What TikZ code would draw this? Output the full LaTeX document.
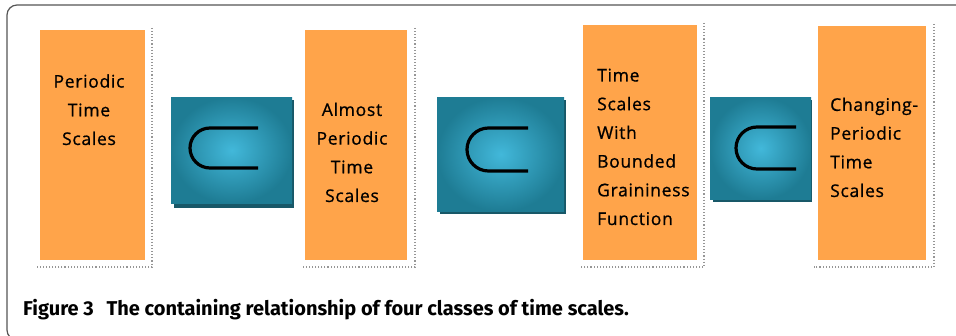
\documentclass[tikz,border=0pt]{standalone}
\usepackage{fontspec}
\setmainfont{Open Sans}
\newfontfamily\boxfont{Open Sans}[LetterSpace=4, FakeBold=0.8]
\newfontfamily\capfont{Fira Sans}
\definecolor{boxorange}{RGB}{255,164,74}
\definecolor{tealin}{RGB}{66,184,218}
\definecolor{tealout}{RGB}{30,124,148}
\definecolor{tealshadow}{RGB}{24,88,104}
\definecolor{framegray}{RGB}{85,85,85}
\definecolor{dotgray}{RGB}{150,150,150}
\begin{document}
\begin{tikzpicture}[x=1pt,y=-1pt,
  obox/.style={fill=boxorange, draw=none, inner sep=0pt, anchor=north west},
  bbox/.style={inner sep=0pt, anchor=north west, shading=radial, inner color=tealin, outer color=tealout},
  bshadow/.style={fill=tealshadow, draw=none},
  dotline/.style={draw=dotgray, line width=1.1pt, dotted},
  subsym/.style={draw=black, line width=3.2pt},
  boxtext/.style={font=\boxfont\fontsize{17.5}{28.7}\selectfont, inner sep=0pt, text=black},
  captext/.style={font=\capfont\bfseries\fontsize{20}{22}\selectfont, inner sep=0pt, anchor=base west}
]
\useasboundingbox (0,0) rectangle (956,336);
\begin{scope}
  \clip (0,0) rectangle (956,336);
  \draw[framegray, line width=1.2pt, rounded corners=10pt] (975,5) -- (7,5) -- (7,340) -- (40,340);
\end{scope}

% orange boxes
\node[obox, minimum width=105pt, minimum height=230pt] (p1) at (40,30) {};
\node[obox, minimum width=102pt, minimum height=230pt] (p2) at (305,30) {};
\node[obox, minimum width=114pt, minimum height=235pt] (p3) at (583,25) {};
\node[obox, minimum width=108pt, minimum height=234pt] (p4) at (818,26) {};

% dotted shadow edges
\draw[dotline] (152,28) -- (152,267) -- (35,267);
\draw[dotline] (415,28) -- (415,267) -- (302,267);
\draw[dotline] (704,23) -- (704,267) -- (580,267);
\draw[dotline] (934,24) -- (934,267) -- (814,267);

% teal boxes with shadow
\fill[bshadow] (174,100) rectangle (294,208);
\node[bbox, minimum width=121pt, minimum height=106pt] (b1) at (171,97) {};
\fill[bshadow] (440,100) rectangle (566,214);
\node[bbox, minimum width=127pt, minimum height=114pt] (b2) at (437,97) {};
\fill[bshadow] (713,100) rectangle (812,202);
\node[bbox, minimum width=101pt, minimum height=102pt] (b3) at (710,97) {};

% subset symbols
\draw[subsym] (258,128) -- (210,128) arc[start angle=270, end angle=90, radius=20] -- (258,168);
\draw[subsym] (528,128) -- (488.5,128) arc[start angle=270, end angle=90, radius=21.5] -- (528,171);
\draw[subsym] (796,127) -- (757,127) arc[start angle=270, end angle=90, radius=21] -- (796,169);

% texts (anchor base = baseline of last line)
\node[boxtext, align=center, anchor=base] (t1) at (89,145) {Periodic\\Time\\Scales};
\node[boxtext, align=center, anchor=base] (t2) at (352,202) {Almost\\Periodic\\Time\\Scales};
\node[boxtext, align=left, anchor=base west] (t3) at (597,225) {Time\\Scales\\With\\Bounded\\Graininess\\Function};
\node[boxtext, align=left, anchor=base west] (t4) at (830,197) {Changing-\\Periodic\\Time\\Scales};

\node[captext] (cap) at (23,316) {Figure 3\hspace{0.4em} The containing relationship of four classes of time scales.};
\end{tikzpicture}
\end{document}
